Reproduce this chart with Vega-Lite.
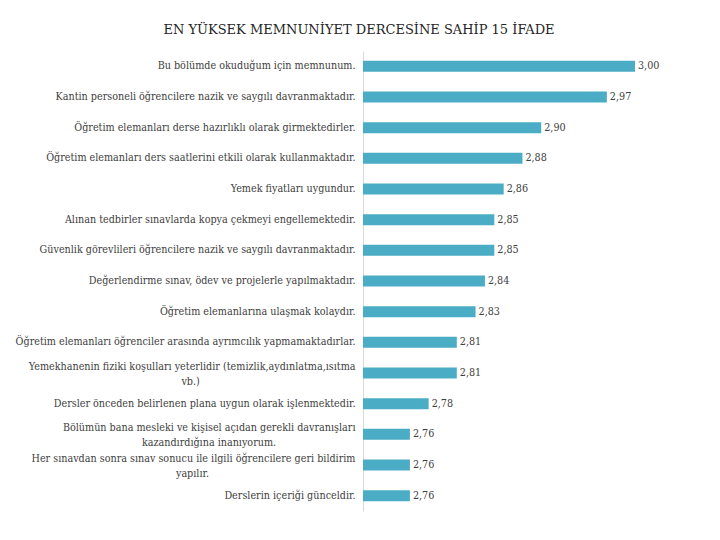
{
  "$schema": "https://vega.github.io/schema/vega-lite/v6.json",
  "autosize": "none",
  "width": 272,
  "height": 460,
  "padding": {"left": 363, "top": 51, "right": 85, "bottom": 29},
  "config": {
    "view": {"stroke": null},
    "locale": {"number": {"decimal": ",", "thousands": ".", "grouping": [3], "currency": ["", " TL"]}}
  },
  "title": {
    "text": "EN YÜKSEK MEMNUNİYET DERCESİNE SAHİP 15 İFADE",
    "font": "DejaVu Serif",
    "fontSize": 13,
    "fontWeight": "normal",
    "color": "#262626",
    "anchor": "middle",
    "dx": -140,
    "offset": 14
  },
  "data": {
    "values": [
      {"label": "Bu bölümde okuduğum için memnunum.", "value": 3.00},
      {"label": "Kantin personeli öğrencilere nazik ve saygılı davranmaktadır.", "value": 2.97},
      {"label": "Öğretim elemanları derse hazırlıklı olarak girmektedirler.", "value": 2.90},
      {"label": "Öğretim elemanları ders saatlerini etkili olarak kullanmaktadır.", "value": 2.88},
      {"label": "Yemek fiyatları uygundur.", "value": 2.86},
      {"label": "Alınan tedbirler sınavlarda kopya çekmeyi engellemektedir.", "value": 2.85},
      {"label": "Güvenlik görevlileri öğrencilere nazik ve saygılı davranmaktadır.", "value": 2.85},
      {"label": "Değerlendirme sınav, ödev ve projelerle yapılmaktadır.", "value": 2.84},
      {"label": "Öğretim elemanlarına ulaşmak kolaydır.", "value": 2.83},
      {"label": "Öğretim elemanları öğrenciler arasında ayrımcılık yapmamaktadırlar.", "value": 2.81},
      {"label": "Yemekhanenin fiziki koşulları yeterlidir (temizlik,aydınlatma,ısıtma\nvb.)", "value": 2.81},
      {"label": "Dersler önceden belirlenen plana uygun olarak işlenmektedir.", "value": 2.78},
      {"label": "Bölümün bana mesleki ve kişisel açıdan gerekli davranışları\nkazandırdığına inanıyorum.", "value": 2.76},
      {"label": "Her sınavdan sonra sınav sonucu ile ilgili öğrencilere geri bildirim\nyapılır.", "value": 2.76},
      {"label": "Derslerin içeriği günceldir.", "value": 2.76}
    ]
  },
  "encoding": {
    "y": {
      "field": "label",
      "type": "nominal",
      "sort": null,
      "scale": {"paddingInner": 0.64, "paddingOuter": 0.32},
      "axis": {
        "title": null,
        "ticks": false,
        "domainColor": "#d9d9d9",
        "domainWidth": 1,
        "labelFont": "DejaVu Serif Condensed",
        "labelFontSize": 10.7,
        "labelColor": "#404040",
        "labelPadding": 8,
        "labelLimit": 400,
        "labelLineHeight": 15,
        "labelOffset": {"condition": {"test": "indexof(datum.value, '\\n') >= 0", "value": -6}, "value": 0},
        "labelExpr": "length(split(datum.label, '\\n')) > 1 ? [split(datum.label, '\\n')[0], pad(split(datum.label, '\\n')[1], length(split(datum.label, '\\n')[1]) + round((length(split(datum.label, '\\n')[0]) - length(split(datum.label, '\\n')[1])) * 0.8), '\u00a0') + '\u200b'] : datum.label"
      }
    },
    "x": {
      "field": "value",
      "type": "quantitative",
      "scale": {"domain": [2.71, 3.0], "zero": false, "nice": false},
      "axis": null
    }
  },
  "layer": [
    {"mark": {"type": "bar", "color": "#4BACC6", "clip": true}},
    {
      "mark": {"type": "text", "align": "left", "baseline": "middle", "dx": 3, "font": "DejaVu Serif Condensed", "fontSize": 10.7, "color": "#404040"},
      "encoding": {"text": {"field": "value", "type": "quantitative", "format": ".2f"}}
    }
  ]
}
